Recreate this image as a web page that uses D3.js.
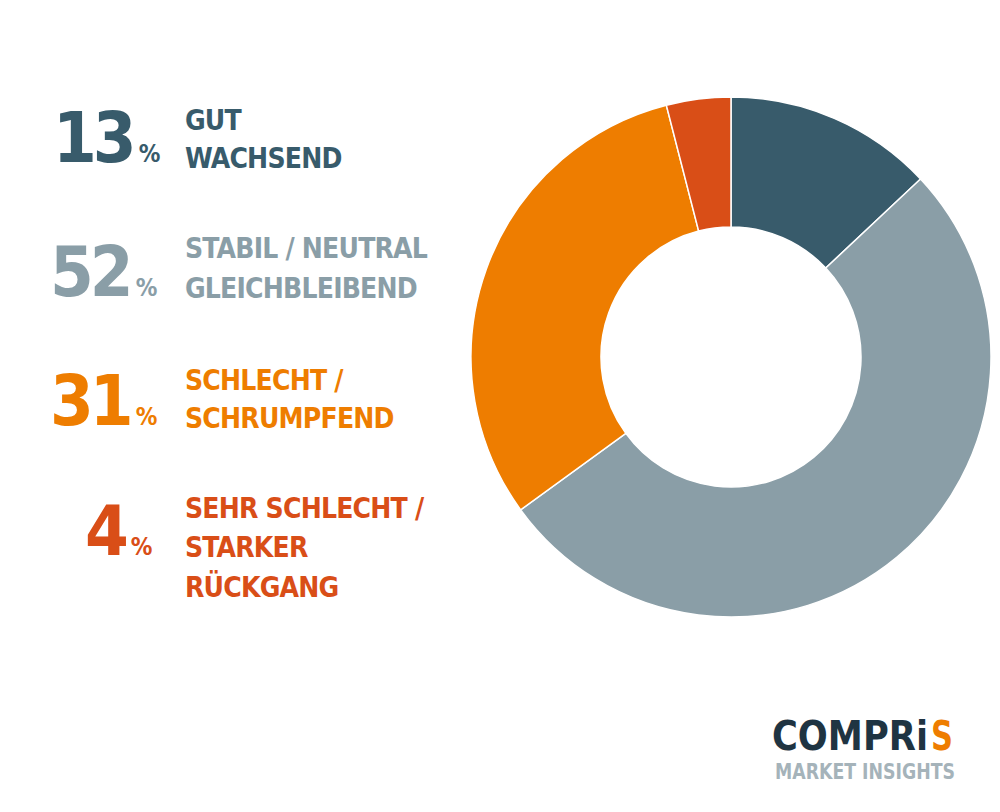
<!DOCTYPE html>
<html><head><meta charset="utf-8">
<script src="https://cdn.jsdelivr.net/npm/d3@7"></script>
<style>body{margin:0;background:#fff}svg{display:block}text{font-family:"DejaVu Sans Condensed","DejaVu Sans",sans-serif;font-stretch:condensed;font-weight:bold}</style>
</head><body><svg id="c" width="1000" height="812"></svg>
<script>
const categories = ["GUT|WACHSEND","STABIL / NEUTRAL|GLEICHBLEIBEND","SCHLECHT /|SCHRUMPFEND","SEHR SCHLECHT /|STARKER|RÜCKGANG"];
const values = [13, 52, 31, 4];
const colors = ["#385b6b","#8a9ea7","#ee7d00","#d94e17"];
const svg = d3.select("#c");
const pie = d3.pie().sort(null).value(d=>d);
const arc = d3.arc().innerRadius(130).outerRadius(260);
svg.append("g").attr("transform","translate(731,357)")
  .selectAll("path").data(pie(values)).join("path")
  .attr("d",arc).attr("fill",(d,i)=>colors[i]).attr("stroke","#fff").attr("stroke-width",1.5);
const rows = [{y:162, lab:[130,168], nx:53},{y:296, lab:[258,298], nx:50},{y:425, lab:[390,428], nx:50},{y:555, lab:[518,557,597], nx:85}];
rows.forEach((r,i)=>{
  const t = svg.append("text").attr("x",r.nx).attr("y",r.y).attr("fill",colors[i]);
  t.append("tspan").attr("font-size",70).attr("letter-spacing",-4).text(values[i]);
  t.append("tspan").attr("font-size",24).attr("dx",6).text("%");
  categories[i].split("|").forEach((s,j)=>{
    svg.append("text").attr("x",185).attr("y",r.lab[j]).attr("fill",colors[i]).attr("font-size",28).attr("letter-spacing",-0.8).text(s);
  });
});
svg.append("text").attr("x",772).attr("y",750).attr("font-size",40).attr("font-weight",900).attr("fill","#1f3442")
  .attr("textLength",156).attr("lengthAdjust","spacingAndGlyphs").text("COMPRi");
svg.append("text").attr("x",931).attr("y",750).attr("font-size",40).attr("font-weight",900).attr("fill","#ee7d00")
  .attr("textLength",22).attr("lengthAdjust","spacingAndGlyphs").text("S");
svg.append("text").attr("x",775).attr("y",779).attr("font-size",21).attr("fill","#a5b3ba").attr("font-weight","normal")
  .attr("textLength",180).attr("lengthAdjust","spacingAndGlyphs").text("MARKET INSIGHTS");
</script></body></html>
